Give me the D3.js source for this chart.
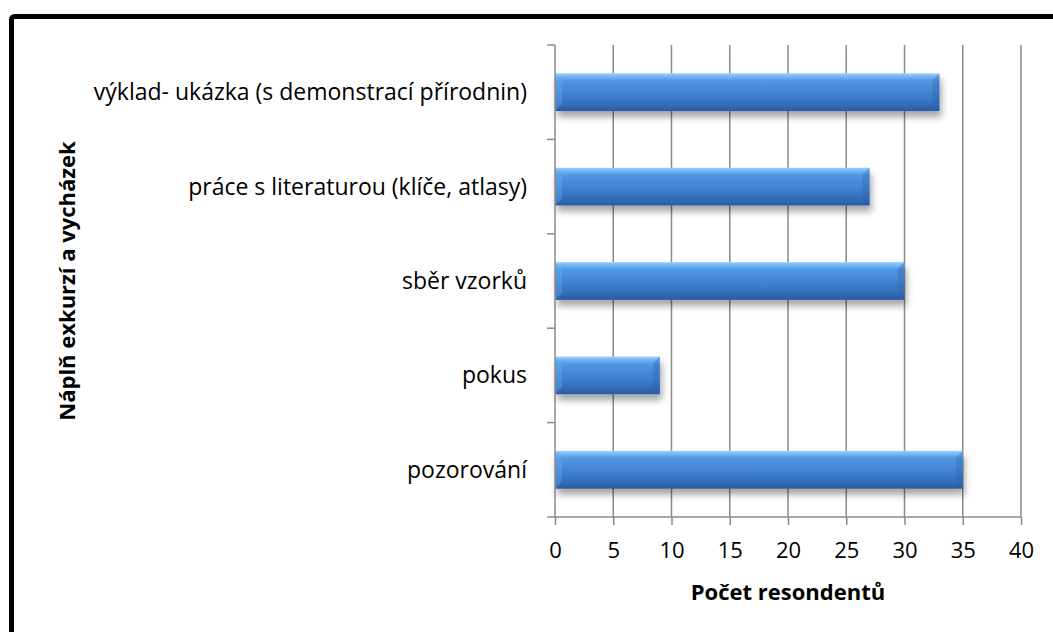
<!DOCTYPE html>
<html>
<head>
<meta charset="utf-8">
<script src="https://cdn.jsdelivr.net/npm/d3@7"></script>
<style>
  html, body { margin: 0; padding: 0; background: #fff; }
  svg { display: block; }
  text { font-family: "Open Sans", "Noto Sans", sans-serif; fill: #000; }
</style>
</head>
<body>
<svg id="chart" width="1053" height="632"></svg>
<script>
// Activities done on excursions and walks, and how many respondents chose each
const categories = [
  "výklad- ukázka (s demonstrací přírodnin)",
  "práce s literaturou (klíče, atlasy)",
  "sběr vzorků",
  "pokus",
  "pozorování "
];
const counts = [33, 27, 30, 9, 35];
const xTicks = [0, 5, 10, 15, 20, 25, 30, 35, 40];
const xTitle = "Počet resondentů";
const yTitle = "Náplň exkurzí a vycházek";

const svg = d3.select("#chart");
const W = 1053, H = 632;
const m = { left: 555, right: 32, top: 45, bottom: 115 };

// frame around the whole chart
svg.append("rect")
  .attr("x", 11.5).attr("y", 16.5)
  .attr("width", W + 20).attr("height", H + 20)
  .attr("rx", 3)
  .attr("fill", "#fff").attr("stroke", "#000").attr("stroke-width", 5);

const x = d3.scaleLinear().domain([0, 40]).range([m.left, W - m.right]);
const y = d3.scaleBand().domain(categories).range([m.top, H - m.bottom]).paddingInner(0.6).paddingOuter(0.3);
const yb = d3.scaleBand().domain(categories).range([m.top, H - m.bottom]);

const defs = svg.append("defs");
const grad = defs.append("linearGradient").attr("id", "barGrad")
  .attr("x1", 0).attr("y1", 0).attr("x2", 0).attr("y2", 1);
[[0, "#9acffd"], [0.07, "#78baf6"], [0.2, "#5097e2"], [0.6, "#3e7fce"], [0.88, "#3068b3"], [1, "#2b5b9c"]]
  .forEach(([o, c]) => grad.append("stop").attr("offset", o).attr("stop-color", c));

const shadow = defs.append("filter").attr("id", "barShadow")
  .attr("x", "-5%").attr("y", "-30%").attr("width", "115%").attr("height", "190%");
shadow.append("feGaussianBlur").attr("in", "SourceAlpha").attr("stdDeviation", 3.5).attr("result", "b");
shadow.append("feOffset").attr("in", "b").attr("dx", 2).attr("dy", 6).attr("result", "o");
shadow.append("feComponentTransfer").attr("in", "o").attr("result", "s")
  .append("feFuncA").attr("type", "linear").attr("slope", 0.35);
const mg = shadow.append("feMerge");
mg.append("feMergeNode").attr("in", "s");
mg.append("feMergeNode").attr("in", "SourceGraphic");

// vertical gridlines
const grid = svg.append("g");
grid.selectAll("line").data(xTicks.filter(d => d > 0)).join("line")
  .attr("x1", d => x(d)).attr("x2", d => x(d))
  .attr("y1", m.top).attr("y2", H - m.bottom)
  .attr("stroke", "#8a8a8a").attr("stroke-width", 1.5);

// bars
const bars = svg.append("g");
const bar = bars.selectAll("g").data(categories).join("g").attr("filter", "url(#barShadow)");
bar.append("rect")
  .attr("x", x(0)).attr("y", d => y(d))
  .attr("width", (d, i) => x(counts[i]) - x(0))
  .attr("height", y.bandwidth())
  .attr("fill", "url(#barGrad)");
// bevelled ends
const bev = 7;
bar.append("path")
  .attr("d", (d, i) => {
    const x0 = x(0), y0 = y(d), h = y.bandwidth();
    return `M${x0},${y0}L${x0 + bev},${y0 + bev}L${x0 + bev},${y0 + h - bev}L${x0},${y0 + h}Z`;
  })
  .attr("fill", "#6aaef0").attr("opacity", 0.35);
bar.append("path")
  .attr("d", (d, i) => {
    const x1 = x(counts[i]), y0 = y(d), h = y.bandwidth();
    return `M${x1},${y0}L${x1 - bev},${y0 + bev}L${x1 - bev},${y0 + h - bev}L${x1},${y0 + h}Z`;
  })
  .attr("fill", "#2d62a8").attr("opacity", 0.35);

// x axis
const xAxis = svg.append("g").attr("transform", `translate(0,${H - m.bottom})`)
  .call(d3.axisBottom(x).tickValues(xTicks).tickSize(8).tickPadding(17));
xAxis.select(".domain").attr("stroke", "#8a8a8a").attr("stroke-width", 1.5).attr("d", `M${x(0) - 8},0H${x(40)}`);
xAxis.selectAll(".tick line").attr("stroke", "#8a8a8a").attr("stroke-width", 1.5);
xAxis.selectAll(".tick text").attr("font-size", 22).attr("font-family", "Open Sans, sans-serif").attr("fill", "#000");

// y axis: ticks at the band boundaries
const yAxisG = svg.append("g").attr("transform", `translate(${x(0)},0)`);
yAxisG.append("line").attr("x1", 0).attr("x2", 0).attr("y1", m.top).attr("y2", H - m.bottom)
  .attr("stroke", "#8a8a8a").attr("stroke-width", 1.5);
const bounds = categories.map(c => yb(c));
yAxisG.selectAll("line.tk").data(bounds).join("line").attr("class", "tk")
  .attr("x1", -8).attr("x2", 0).attr("y1", d => d).attr("y2", d => d)
  .attr("stroke", "#8a8a8a").attr("stroke-width", 1.5);
yAxisG.selectAll("text").data(categories).join("text")
  .attr("x", -28).attr("y", d => yb(d) + yb.bandwidth() / 2)
  .attr("dy", "0.35em").attr("text-anchor", "end").attr("font-size", 23)
  .text(d => d);

// axis titles
svg.append("text").attr("x", (x(0) + x(40)) / 2).attr("y", 600)
  .attr("text-anchor", "middle").attr("font-weight", "bold").attr("font-size", 22)
  .text(xTitle);
svg.append("text")
  .attr("transform", `translate(75,${(m.top + H - m.bottom) / 2}) rotate(-90)`)
  .attr("text-anchor", "middle").attr("font-weight", "bold").attr("font-size", 22)
  .text(yTitle);
</script>
</body>
</html>
